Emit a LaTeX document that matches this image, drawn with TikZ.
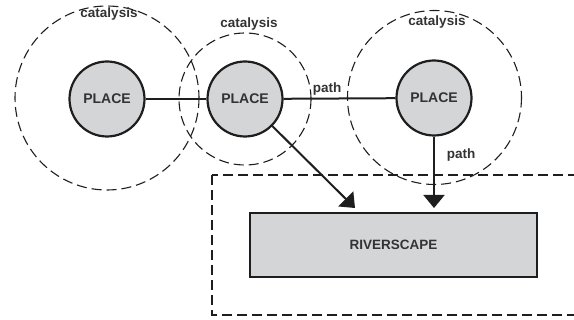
\documentclass[tikz,border=0pt]{standalone}
\usepackage{fontspec}
\setmainfont{Liberation Sans}
\usetikzlibrary{arrows.meta}
\definecolor{ink}{HTML}{1E1E1E}
\definecolor{txt}{HTML}{333333}
\definecolor{placefill}{HTML}{D4D5D7}
\tikzset{
  place/.style={circle, draw=ink, line width=2.2pt, fill=placefill,
    minimum size=75pt, inner sep=0pt, text=txt,
    font=\fontsize{14}{16}\selectfont\bfseries},
  zone/.style={draw=ink, line width=1.1pt, dash pattern=on 10pt off 5pt},
  lbl/.style={text=txt, inner sep=1pt, font=\fontsize{13.5}{15}\selectfont\bfseries},
  link/.style={draw=ink, line width=2pt},
  flow/.style={link, -{Triangle[width=21pt,length=13pt]}},
}
\begin{document}
\begin{tikzpicture}[x=1pt, y=-1pt]
\useasboundingbox (0,0) rectangle (574,320);
% catalysis zones
\draw[zone] (107,98) circle (92);
\draw[zone] (245,99) circle (66);
\draw[zone] (434.5,97.5) circle (87);
% riverscape frame, open to the right
\draw[zone] (212,175) rectangle (600,315);
% places
\node[place] (p1) at (107,99) {PLACE};
\node[place] (p2) at (245,99) {PLACE};
\node[place] (p3) at (434,98) {PLACE};
% riverscape
\node[draw=ink, line width=2.2pt, fill=placefill, minimum width=287pt,
  minimum height=64pt, inner sep=0pt, text=txt,
  font=\fontsize{13.5}{15}\selectfont\bfseries] (river) at (393.5,245) {RIVERSCAPE};
% labels
\node[lbl] (c1) at (109,14) {catalysis};
\node[lbl] (c2) at (249,24) {catalysis};
\node[lbl] (c3) at (437,22) {catalysis};
\node[lbl] (l1) at (327,89) {path};
\node[lbl] (l2) at (461,155) {path};
% connectors
\coordinate (t1) at (355,208);
\coordinate (t2) at (434,208);
\draw[link] (p1) -- (p2);
\draw[link] (p2) -- (p3);
\draw[flow] (p2) -- (t1);
\draw[flow] (p3.south) -- (t2);
\end{tikzpicture}
\end{document}
